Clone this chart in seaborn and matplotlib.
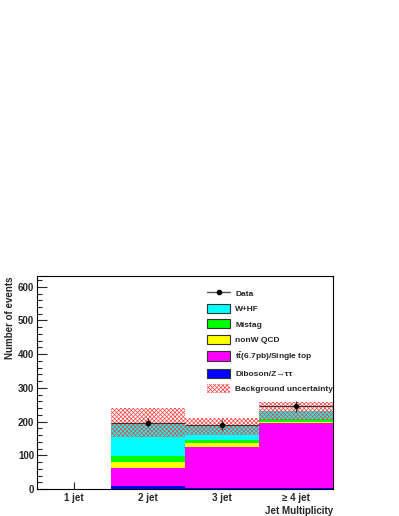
import numpy as np
import pandas as pd
import matplotlib
matplotlib.use("Agg")
import matplotlib.pyplot as plt
import seaborn as sns
from matplotlib.patches import Patch
from matplotlib.lines import Line2D
from matplotlib.ticker import MultipleLocator

# Datos
bins = ["1 jet", "2 jet", "3 jet", "≥ 4 jet"]
diboson = [0, 8, 4, 2]
top = [0, 55, 120, 193]
qcd = [0, 18, 12, 5]
mistag = [0, 18, 9, 8]
whf = [0, 98, 41, 23]
bkg_unc = [0, 44, 25, 27]
data = [np.nan, 197, 190, 245]
data_err = [0, 14, 14, 16]

sns.set_theme(style="ticks")
plt.rcParams['font.family'] = ['Liberation Sans', 'DejaVu Sans']
plt.rcParams['font.weight'] = 'bold'
plt.rcParams['mathtext.fontset'] = 'custom'
plt.rcParams['mathtext.bf'] = 'Liberation Sans:bold'
plt.rcParams['mathtext.rm'] = 'Liberation Sans:bold'
plt.rcParams['hatch.linewidth'] = 0.5

df = pd.DataFrame({"bin": bins, "Diboson": diboson, "top": top, "QCD": qcd,
                   "Mistag": mistag, "WHF": whf})

# Apilado: de abajo hacia arriba
capas = [("Diboson", "#0000ff"), ("top", "#ff00ff"), ("QCD", "#ffff00"),
         ("Mistag", "#00ff00"), ("WHF", "#00ffff")]
cum = df[[c for c, _ in capas]].cumsum(axis=1)
total = cum["WHF"].values

fig = plt.figure(figsize=(3.99, 5.16), dpi=100)
ax = fig.add_axes([0.0927, 0.0523, 0.742, 0.4128])

for col, color in reversed(capas):
    sns.barplot(x=df["bin"], y=cum[col], color=color, width=1.0, saturation=1,
                linewidth=0, order=bins, ax=ax)

# Banda de incertidumbre
unc = np.array(bkg_unc)
ax.bar(np.arange(len(bins)), 2 * unc, bottom=total - unc, width=1.0, fill=False,
       hatch='xxxxxxxx', edgecolor='#ff4040', linewidth=0)

# Datos
ax.errorbar(np.arange(len(bins)), data, yerr=data_err, xerr=0.5, fmt='o', color='black',
            ms=3, elinewidth=0.8, ecolor='#333333', capsize=0)

ax.set_xlim(-0.5, 3.5)
ax.set_ylim(0, 632)
ax.yaxis.set_major_locator(MultipleLocator(100))
ax.yaxis.set_minor_locator(MultipleLocator(20))
ax.tick_params(axis='y', which='major', direction='in', length=7, width=0.8, labelsize=7, pad=2)
ax.tick_params(axis='y', which='minor', direction='in', length=3.5, width=0.8)
ax.tick_params(axis='x', direction='in', length=5, width=0.8, labelsize=7, pad=3)
for lbl in ax.get_xticklabels() + ax.get_yticklabels():
    lbl.set_fontweight('bold')
for s in ax.spines.values():
    s.set_linewidth(0.8)
    s.set_color('black')

ax.set_ylabel("Number of events", fontsize=7, fontweight='bold', loc='top', labelpad=2)
ax.set_xlabel("Jet Multiplicity", fontsize=7, fontweight='bold', loc='right', labelpad=2)

handles = [
    Line2D([], [], color='#555555', marker='o', ms=3, mfc='black', mec='black', lw=1),
    Patch(facecolor='#00ffff', edgecolor='#333333', lw=0.8),
    Patch(facecolor='#00ff00', edgecolor='#333333', lw=0.8),
    Patch(facecolor='#ffff00', edgecolor='#333333', lw=0.8),
    Patch(facecolor='#ff00ff', edgecolor='#333333', lw=0.8),
    Patch(facecolor='#0000ff', edgecolor='#333333', lw=0.8),
    Patch(facecolor='white', edgecolor='#ff4040', hatch='xxxxxxxx', lw=0),
]
labels = ["Data", "W+HF", "Mistag", "nonW QCD", r"$\mathbf{t\bar{t}}$(6.7pb)/Single top",
          "Diboson/Z→ττ", "Background uncertainty"]
ax.legend(handles, labels, loc='upper left', bbox_to_anchor=(0.560, 0.96), frameon=False,
          borderpad=0, handlelength=2.8, handleheight=1.3, labelspacing=0.72,
          handletextpad=0.6, prop={'weight': 'bold', 'size': 6})

fig.savefig("out.png", dpi=100, facecolor='white')
